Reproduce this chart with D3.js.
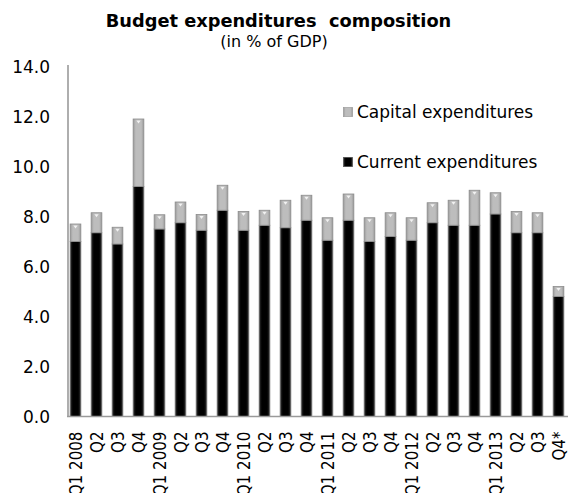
<!DOCTYPE html>
<html>
<head>
<meta charset="utf-8">
<script src="https://cdn.jsdelivr.net/npm/d3@7/dist/d3.min.js"></script>
<style>
  html, body { margin: 0; padding: 0; background: #fff; }
  svg { display: block; }
  text { font-family: "DejaVu Sans", Verdana, sans-serif; fill: #000; }
</style>
</head>
<body>
<div id="chart"></div>
<script>
// Quarterly budget expenditures, % of GDP
const quarters = ["Q1 2008", "Q2", "Q3", "Q4",
                  "Q1 2009", "Q2", "Q3", "Q4",
                  "Q1 2010", "Q2", "Q3", "Q4",
                  "Q1 2011", "Q2", "Q3", "Q4",
                  "Q1 2012", "Q2", "Q3", "Q4",
                  "Q1 2013", "Q2", "Q3", "Q4*"];
const currentExp = [7.0, 7.35, 6.9, 9.2, 7.5, 7.75, 7.45, 8.25,
                    7.45, 7.65, 7.55, 7.85, 7.05, 7.85, 7.0, 7.2,
                    7.05, 7.75, 7.65, 7.65, 8.1, 7.35, 7.35, 4.8];
const capitalExp = [0.7, 0.8, 0.67, 2.7, 0.57, 0.83, 0.63, 1.0,
                    0.75, 0.6, 1.1, 1.0, 0.9, 1.05, 0.95, 0.95,
                    0.9, 0.8, 1.0, 1.4, 0.85, 0.85, 0.8, 0.4];
const yTicks = [0, 2, 4, 6, 8, 10, 12, 14];
const seriesNames = ["Current expenditures", "Capital expenditures"];

const W = 571, H = 493;
const svg = d3.select("#chart").append("svg")
  .attr("width", W).attr("height", H);

const defs = svg.append("defs");
function hGradient(id, edge, mid) {
  const g = defs.append("linearGradient").attr("id", id)
    .attr("x1", "0").attr("x2", "1").attr("y1", "0").attr("y2", "0");
  g.append("stop").attr("offset", "0%").attr("stop-color", edge);
  g.append("stop").attr("offset", "25%").attr("stop-color", mid);
  g.append("stop").attr("offset", "75%").attr("stop-color", mid);
  g.append("stop").attr("offset", "100%").attr("stop-color", edge);
}
hGradient("capFill", "#9a9a9a", "#bdbdbd");
hGradient("curFill", "#333", "#000");

const idx = d3.range(quarters.length);
const x = d3.scaleBand().domain(idx).range([65, 569])
  .paddingInner(0.49).paddingOuter(0.245);
const y = d3.scaleLinear().domain([0, 14]).range([416.5, 66.5]);

const stack = d3.stack().keys([0, 1]).value((d, k) => k === 0 ? d.cur : d.cap);
const rows = idx.map(i => ({ i, cur: currentExp[i], cap: capitalExp[i] }));
const layers = stack(rows);
const fills = ["url(#curFill)", "url(#capFill)"];
const strokes = ["#777", "#8c8c8c"];

layers.forEach((layer, k) => {
  svg.append("g").selectAll("rect").data(layer).join("rect")
    .attr("x", d => x(d.data.i))
    .attr("width", x.bandwidth())
    .attr("y", d => y(d[1]))
    .attr("height", d => y(d[0]) - y(d[1]))
    .attr("fill", fills[k])
    .attr("stroke", strokes[k])
    .attr("stroke-width", 0.8);
});

// small bevel highlight at the top of each capital segment
svg.append("g").selectAll("path").data(layers[1]).join("path")
  .attr("d", d => {
    const x0 = x(d.data.i), bw = x.bandwidth(), t = y(d[1]);
    return `M${x0 + bw * 0.3},${t + 1.5} L${x0 + bw * 0.7},${t + 1.5} L${x0 + bw * 0.5},${t + 4.5} Z`;
  })
  .attr("fill", "#f2f2f2");

// axes
const yAxis = svg.append("g").attr("transform", "translate(68,0)")
  .call(d3.axisLeft(y).tickValues(yTicks).tickSize(0).tickSizeOuter(0)
    .tickFormat(d3.format(".1f")));
yAxis.select(".domain").attr("stroke", "#9a9a9a").attr("stroke-width", 1.6)
  .attr("d", `M0,${y(14) - 1.5}V${y(0)}`);
yAxis.selectAll(".tick text")
  .attr("x", -18).attr("dy", "0.36em")
  .style("font-size", "17px").style("font-family", "DejaVu Sans");

// category labels run bottom-to-top, set a little tighter along their length
const labelSquash = 0.89;
const xAxis = svg.append("g").attr("transform", `translate(0,${y(0)})`)
  .call(d3.axisBottom(x).tickSize(0).tickSizeOuter(0).tickFormat(i => quarters[i]));
xAxis.select(".domain").attr("stroke", "#9a9a9a").attr("stroke-width", 1.6)
  .attr("d", `M67,0H568`);
xAxis.selectAll(".tick text")
  .attr("transform", `rotate(-90) scale(${labelSquash},1)`)
  .attr("text-anchor", "end")
  .attr("x", -15 / labelSquash).attr("y", 0).attr("dy", "0.36em")
  .style("font-size", "17px").style("font-family", "DejaVu Sans");

// title
svg.append("text")
  .attr("x", 278.5).attr("y", 27)
  .attr("text-anchor", "middle")
  .style("font-weight", "bold").style("font-size", "17.8px")
  .style("white-space", "pre")
  .text("Budget expenditures  composition");
svg.append("text")
  .attr("x", 274).attr("y", 47)
  .attr("text-anchor", "middle")
  .style("font-size", "16px")
  .text("(in % of GDP)");

// legend
const legendItems = [
  { name: seriesNames[1], fill: "url(#capFill)", stroke: "#9a9a9a", y: 118.3 },
  { name: seriesNames[0], fill: "url(#curFill)", stroke: "#555", y: 168.3 }
];
const lg = svg.append("g").selectAll("g").data(legendItems).join("g");
lg.append("rect")
  .attr("x", 343.3).attr("y", d => d.y - 11)
  .attr("width", 9.4).attr("height", 9.4)
  .attr("fill", d => d.fill).attr("stroke", d => d.stroke).attr("stroke-width", 0.6);
lg.append("text")
  .attr("x", 357).attr("y", d => d.y)
  .style("font-size", "17px")
  .text(d => d.name);
</script>
</body>
</html>
